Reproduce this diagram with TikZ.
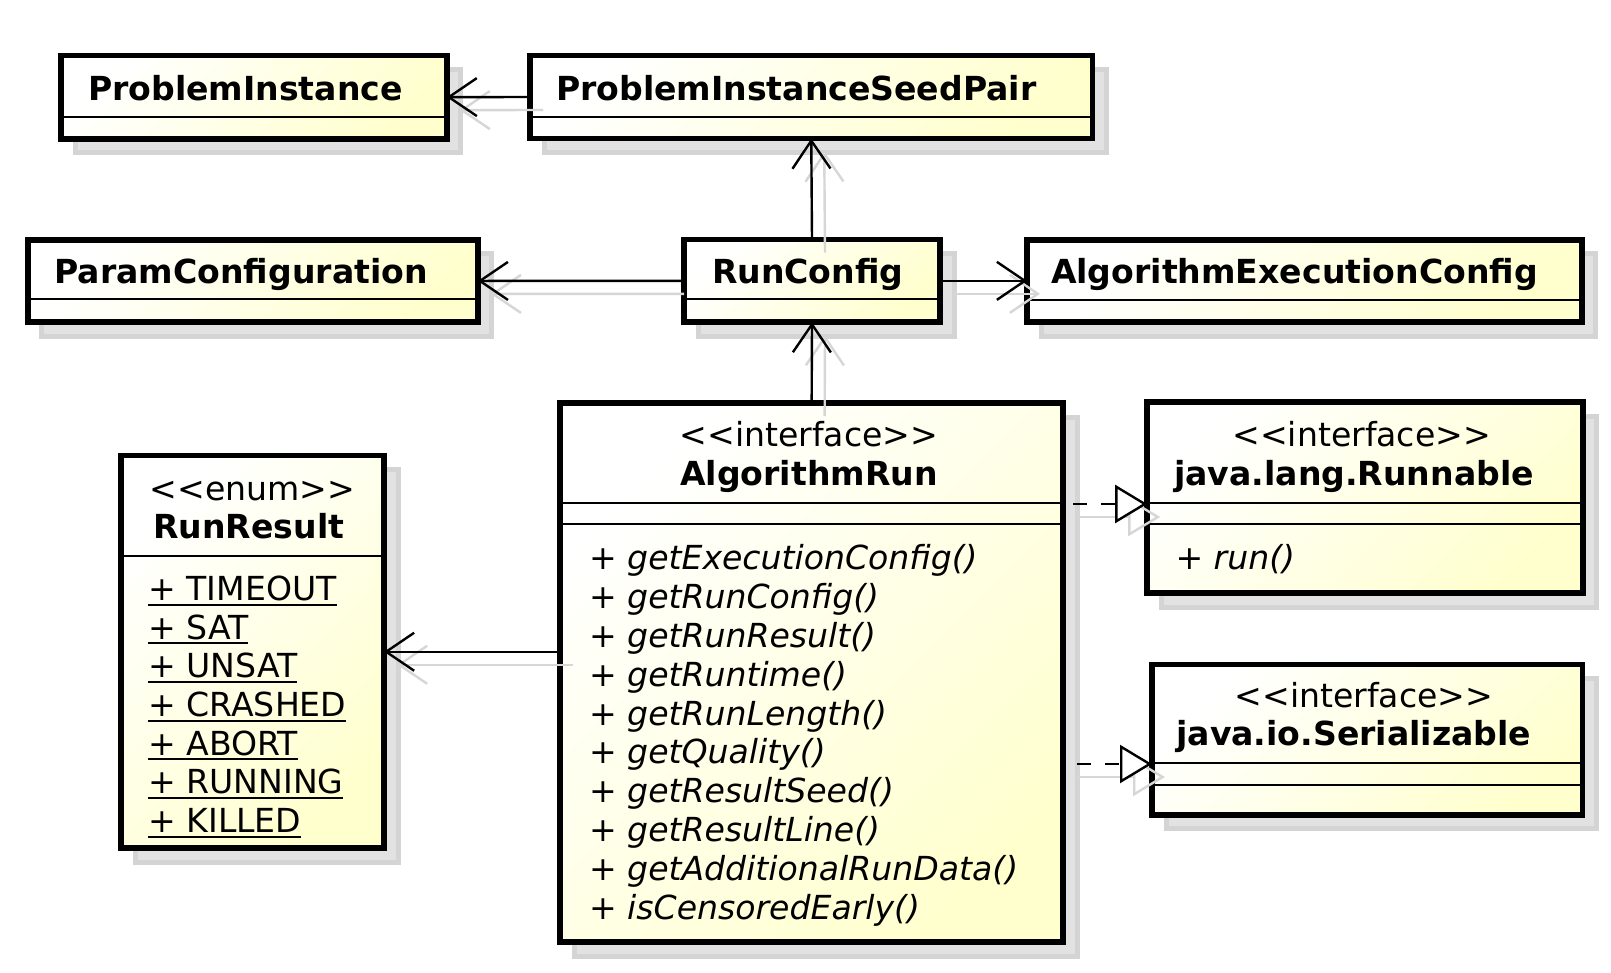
\documentclass[tikz,border=0pt]{standalone}
\usepackage{fontspec}
\setmainfont[Ligatures=TeXOff]{DejaVu Sans}
\usetikzlibrary{arrows.meta,shadows}
\definecolor{uyel}{RGB}{255,255,206}
\definecolor{shfill}{RGB}{226,226,226}
\definecolor{shedge}{RGB}{212,212,212}
\definecolor{lsh}{RGB}{214,214,214}
\pgfdeclarehorizontalshading{umlshade}{100bp}{color(0bp)=(white); color(25bp)=(white); color(75bp)=(uyel); color(100bp)=(uyel)}
\newcommand\ulitem[1]{\setbox0\hbox{#1}\rlap{\vrule height -3.3pt depth 5.3pt width \wd0}\box0}
\begin{document}
\begin{tikzpicture}[x=1pt,y=-1pt,
  umlbox/.style={rectangle, draw=black, line width=5.7pt, shade, shading=umlshade, shading angle=-45,
     inner sep=0pt, outer sep=0pt,
     general shadow={fill=shfill, draw=shedge, line width=5pt, shadow xshift=14pt, shadow yshift=-14pt}},
  txt/.style={inner sep=0pt, outer sep=0pt, anchor=base, font=\fontsize{33.1}{38.8}\selectfont},
  cname/.style={txt, font=\fontsize{33.1}{38.8}\selectfont\bfseries},
  memb/.style={txt, anchor=base west, font=\fontsize{33.1}{38.8}\selectfont\itshape},
  eitem/.style={txt, anchor=base west},
  divline/.style={line width=2.2pt},
  assoc/.style={line width=2.4pt, -{Straight Barb[length=28pt,width=38pt]}},
  shassoc/.style={draw=lsh, line width=2.4pt, -{Straight Barb[length=28pt,width=38pt]}},
  real/.style={line width=2.4pt, dash pattern=on 14pt off 14pt, -{Triangle[length=32pt,width=38pt,fill=white]}},
  shreal/.style={draw=lsh, line width=2.4pt, -{Triangle[length=32pt,width=38pt,open]}}]
\fill[white] (0,0) rectangle (1611,972);
\useasboundingbox (0,0) rectangle (1611,972);

% boxes (stroke-centre geometry)
\node[umlbox, minimum width=385.4pt, minimum height=83.3pt] (pi) at (254,97.15) {};
\node[umlbox, minimum width=562.5pt, minimum height=83pt] (pisp) at (811.25,97) {};
\node[umlbox, minimum width=450pt, minimum height=82.5pt] (pc) at (252.8,280.95) {};
\node[umlbox, minimum width=256pt, minimum height=82.7pt] (rc) at (812,280.85) {};
\node[umlbox, minimum width=554.7pt, minimum height=82.3pt] (aec) at (1304.35,280.85) {};
\node[umlbox, minimum width=503.3pt, minimum height=539pt] (ar) at (811.65,672.5) {};
\node[umlbox, minimum width=263pt, minimum height=392.5pt] (rr) at (252.5,651.75) {};
\node[umlbox, minimum width=435.6pt, minimum height=191.3pt] (rb) at (1365,497.65) {};
\node[umlbox, minimum width=430.5pt, minimum height=150.3pt] (ser) at (1367.25,739.65) {};

% compartment dividers
\draw[divline] (pi.west |- 0,116.7) -- (pi.east |- 0,116.7);
\draw[divline] (pisp.west |- 0,116.7) -- (pisp.east |- 0,116.7);
\draw[divline] (pc.west |- 0,299.3) -- (pc.east |- 0,299.3);
\draw[divline] (rc.west |- 0,299.3) -- (rc.east |- 0,299.3);
\draw[divline] (aec.west |- 0,300) -- (aec.east |- 0,300);
\draw[divline] (ar.west |- 0,503) -- (ar.east |- 0,503);
\draw[divline] (ar.west |- 0,524.3) -- (ar.east |- 0,524.3);
\draw[divline] (rr.west |- 0,555.7) -- (rr.east |- 0,555.7);
\draw[divline] (rb.west |- 0,502.7) -- (rb.east |- 0,502.7);
\draw[divline] (rb.west |- 0,524) -- (rb.east |- 0,524);
\draw[divline] (ser.west |- 0,763.3) -- (ser.east |- 0,763.3);
\draw[divline] (ser.west |- 0,785) -- (ser.east |- 0,785);

% texts
\node[cname, anchor=base west] (pit) at (88,100.5) {ProblemInstance};
\node[cname, anchor=base west] (pispt) at (556,100.5) {ProblemInstanceSeedPair};
\node[cname, anchor=base west] (pct) at (54.5,283.8) {ParamConfiguration};
\node[cname, anchor=base west] (rct) at (712,283.8) {RunConfig};
\node[cname, anchor=base west] (aect) at (1051,283.8) {AlgorithmExecutionConfig};

\node[txt] (ars) at (809,446.5) {<<interface>>};
\node[cname] (arn) at (809,485.5) {AlgorithmRun};
\foreach \m [count=\i from 0] in {getExecutionConfig(),getRunConfig(),getRunResult(),getRuntime(),getRunLength(),getQuality(),getResultSeed(),getResultLine(),getAdditionalRunData(),isCensoredEarly()}
  \node[memb] (arm\i) at (589,569.8+\i*38.8) {+ \m};

\node[txt] (rrs) at (252.4,500.5) {<<enum>>};
\node[cname] (rrn) at (248.8,538.8) {RunResult};
\foreach \e [count=\i from 0] in {TIMEOUT,SAT,UNSAT,CRASHED,ABORT,RUNNING,KILLED}
  \node[eitem] (rre\i) at (148.3,600.3+\i*38.7) {\ulitem{+ \e}};

\node[txt] (rbs) at (1361.7,446.5) {<<interface>>};
\node[cname] (rbn) at (1354,485.5) {java.lang.Runnable};
\node[memb] (rbm) at (1175.5,569.8) {+ run()};

\node[txt] (sers) at (1363.9,707.5) {<<interface>>};
\node[cname] (sern) at (1353.8,745.5) {java.io.Serializable};

% connector shadows
\draw[shassoc] ([shift={(13,13)}]pisp.west) -- ([shift={(13,13)}]pi.east);
\draw[shassoc] ([shift={(0,13)}]rc.west) -- ([shift={(13,13)}]pc.east);
\draw[shassoc] ([shift={(13,13)}]rc.east) -- ([shift={(13,13)}]aec.west);
\draw[shassoc] ([shift={(13,13)}]rc.north) -- ([shift={(13,13)}]pisp.south);
\draw[shassoc] ([shift={(13,13)}]ar.north) -- ([shift={(13,13)}]rc.south);
\draw[shassoc] ([shift={(13,13)}]ar.west |- rr.east) -- ([shift={(13,13)}]rr.east);
\draw[shreal] ([shift={(13,13)}]ar.east |- 0,504) -- ([shift={(13,13)}]rb.west |- 0,504);
\draw[shreal] ([shift={(13,13)}]ar.east |- 0,764) -- ([shift={(13,13)}]ser.west |- 0,764);

% connectors
\draw[assoc] (pisp.west) -- (pi.east);
\draw[assoc] (rc.west) -- (pc.east);
\draw[assoc] (rc.east) -- (aec.west);
\draw[assoc] (rc.north) -- (pisp.south);
\draw[assoc] (ar.north) -- (rc.south);
\draw[assoc] (ar.west |- rr.east) -- (rr.east);
\draw[real, dash phase=18pt] (ar.east |- 0,504) -- (rb.west |- 0,504);
\draw[real, dash phase=14pt] (ar.east |- 0,764) -- (ser.west |- 0,764);
\end{tikzpicture}
\end{document}
